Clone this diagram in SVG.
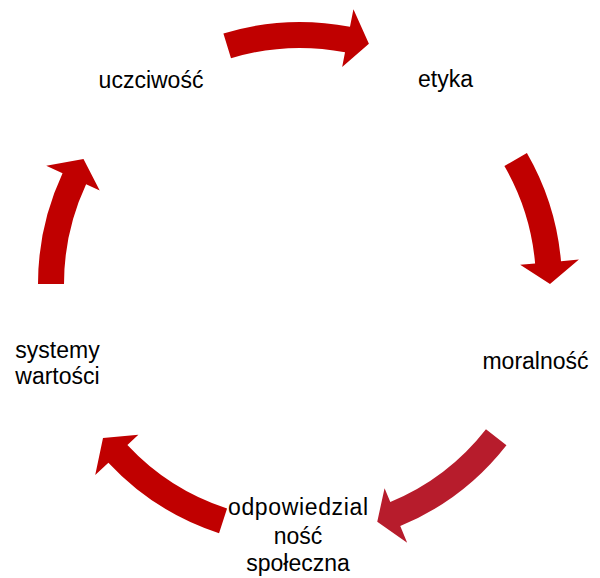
<svg xmlns="http://www.w3.org/2000/svg" width="600" height="578" viewBox="0 0 600 578">
  <style>
    .arrow { fill: #C00000; stroke: none; }
    .arrow.alt { fill: #B71C2C; }
    .label { font-family: "Liberation Sans", Arial, sans-serif; font-size: 23px; fill: #000000; text-anchor: middle; }
  </style>
  <rect width="600" height="578" fill="#FFFFFF"/>

  <!-- curved cycle arrows around centre (300,284) -->
  <g id="connectors">
    <path class="arrow" d="M223.4,33.45 A262,262 0 0 1 349.99,26.81 L353.43,9.14 L368.91,43.69 L342.17,67.06 L345.03,52.34 A236,236 0 0 0 231.0,58.31 Z"/>
    <path class="arrow" d="M526.9,153.0 A262,262 0 0 1 561.0,261.16 L578.93,259.6 L550,284 L520.16,264.74 L535.1,263.43 A236,236 0 0 0 504.38,166.0 Z"/>
    <path class="arrow alt" d="M506.46,445.3 A262,262 0 0 1 400.26,526.06 L407.15,542.69 L377.25,521.76 L384.57,488.18 L390.31,502.04 A236,236 0 0 0 485.97,429.3 Z"/>
    <path class="arrow" d="M219.04,533.18 A262,262 0 0 1 108.39,462.68 L95.22,474.96 L103.0,437.9 L138.37,434.72 L127.4,444.95 A236,236 0 0 0 227.07,508.45 Z"/>
    <path class="arrow" d="M38,284 A262,262 0 0 1 62.55,173.27 L46.23,165.67 L83.49,159.0 L99.71,190.6 L86.11,184.26 A236,236 0 0 0 64,284 Z"/>
  </g>

  <g id="node-etyka">
    <text class="label" x="445.5" y="87">etyka</text>
  </g>
  <g id="node-moralnosc">
    <text class="label" x="535.5" y="369">moralność</text>
  </g>
  <g id="node-odpowiedzialnosc">
    <text class="label" x="298" y="515" textLength="140" lengthAdjust="spacing">odpowiedzial</text>
    <text class="label" x="298" y="544">ność</text>
    <text class="label" x="298" y="571">społeczna</text>
  </g>
  <g id="node-systemy">
    <text class="label" x="57.5" y="358">systemy</text>
    <text class="label" x="57.5" y="384">wartości</text>
  </g>
  <g id="node-uczciwosc">
    <text class="label" x="151" y="88">uczciwość</text>
  </g>
</svg>
